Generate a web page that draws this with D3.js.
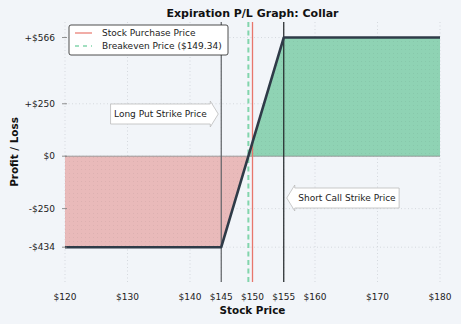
<!DOCTYPE html>
<html>
<head>
<meta charset="utf-8">
<script src="https://cdn.jsdelivr.net/npm/d3@7/dist/d3.min.js"></script>
<style>
  html, body { margin: 0; padding: 0; background: #f2f5f9; }
  svg { display: block; font-family: "DejaVu Sans", sans-serif; }
</style>
</head>
<body>
<svg id="chart" width="461" height="324"></svg>
<script>
// Collar payoff at expiration (long stock + long put + short call)
const prices = [120, 145, 149.34, 155, 180];
const pnl = [-434, -434, 0, 566, 566];
const stockPrice = 150;
const breakeven = 149.34;
const putStrike = 145;
const callStrike = 155;
const xTicks = [120, 130, 140, 145, 150, 155, 160, 170, 180];
const yTicks = [-434, -250, 0, 250, 566];
const yTickLabels = ["-$434", "-$250", "$0", "+$250", "+$566"];

const svg = d3.select("#chart");
const W = 461, H = 324;
const m = { left: 65, right: 21, top: 22, bottom: 42 };
const fs = 9;

const x = d3.scaleLinear().domain([120, 180]).range([m.left, W - m.right]);
const y = d3.scaleLinear().domain([-600, 640]).range([H - m.bottom, m.top]);

svg.append("rect").attr("width", W).attr("height", H).attr("fill", "#f2f5f9");

// faint dot texture used by the fills
const defs = svg.append("defs");
function dotPattern(id, fill) {
  const p = defs.append("pattern").attr("id", id).attr("patternUnits", "userSpaceOnUse")
    .attr("width", 4).attr("height", 4);
  p.append("rect").attr("width", 4).attr("height", 4).attr("fill", fill);
  p.append("rect").attr("x", 1).attr("y", 1).attr("width", 1).attr("height", 1)
    .attr("fill", "#000").attr("opacity", 0.05);
}
dotPattern("lossFill", "#e9baba");
dotPattern("gainFill", "#8fd3b4");

// grid
const grid = svg.append("g");
grid.selectAll(".gx").data(xTicks).join("line")
  .attr("x1", d => x(d)).attr("x2", d => x(d))
  .attr("y1", m.top).attr("y2", H - m.bottom)
  .attr("stroke", "#c9cdd2").attr("stroke-width", 0.7).attr("stroke-dasharray", "1,2.5");
grid.selectAll(".gy").data(yTicks).join("line")
  .attr("x1", m.left).attr("x2", W - m.right)
  .attr("y1", d => y(d)).attr("y2", d => y(d))
  .attr("stroke", "#c9cdd2").attr("stroke-width", 0.7).attr("stroke-dasharray", "1,2.5");

const pts = prices.map((p, i) => ({ p, v: pnl[i] }));

// loss region
svg.append("path")
  .datum(pts.filter(d => d.p <= breakeven))
  .attr("fill", "url(#lossFill)")
  .attr("d", d3.area().x(d => x(d.p)).y0(y(0)).y1(d => y(Math.min(d.v, 0))));
// gain region
svg.append("path")
  .datum(pts.filter(d => d.p >= breakeven))
  .attr("fill", "url(#gainFill)")
  .attr("d", d3.area().x(d => x(d.p)).y0(y(0)).y1(d => y(Math.max(d.v, 0))));

// zero line
svg.append("line").attr("x1", m.left).attr("x2", W - m.right)
  .attr("y1", y(0)).attr("y2", y(0)).attr("stroke", "#8a8a8a").attr("stroke-width", 0.8);

// strike lines
svg.append("line").attr("x1", x(putStrike)).attr("x2", x(putStrike))
  .attr("y1", m.top).attr("y2", H - m.bottom)
  .attr("stroke", "#5f6266").attr("stroke-width", 1.2);
svg.append("line").attr("x1", x(callStrike)).attr("x2", x(callStrike))
  .attr("y1", m.top).attr("y2", H - m.bottom)
  .attr("stroke", "#1f2326").attr("stroke-width", 1.2);

// stock purchase and breakeven lines
svg.append("line").attr("x1", x(stockPrice)).attr("x2", x(stockPrice))
  .attr("y1", m.top).attr("y2", H - m.bottom)
  .attr("stroke", "#e8766c").attr("stroke-width", 1.3);
svg.append("line").attr("x1", x(breakeven)).attr("x2", x(breakeven))
  .attr("y1", m.top).attr("y2", H - m.bottom)
  .attr("stroke", "#82d5ac").attr("stroke-width", 2).attr("stroke-dasharray", "5,3.5");

// payoff line
svg.append("path").datum(pts)
  .attr("fill", "none").attr("stroke", "#2f3b48").attr("stroke-width", 2.6)
  .attr("stroke-linejoin", "round")
  .attr("d", d3.line().x(d => x(d.p)).y(d => y(d.v)));

// y axis ticks and labels
const yAx = svg.append("g");
yAx.selectAll("line").data(yTicks).join("line")
  .attr("x1", m.left - 3).attr("x2", m.left + 2)
  .attr("y1", d => y(d)).attr("y2", d => y(d))
  .attr("stroke", "#777").attr("stroke-width", 0.8);
yAx.selectAll("text").data(yTicks).join("text")
  .attr("x", m.left - 10).attr("y", d => y(d)).attr("dy", "0.35em")
  .attr("text-anchor", "end").attr("font-size", fs).attr("fill", "#222")
  .text((d, i) => yTickLabels[i]);

// x axis labels
svg.append("g").selectAll("text").data(xTicks).join("text")
  .attr("x", d => x(d)).attr("y", H - m.bottom + 15).attr("dy", "0.35em")
  .attr("text-anchor", "middle").attr("font-size", fs).attr("fill", "#222")
  .text(d => "$" + d);

// titles
svg.append("text").attr("x", (m.left + W - m.right) / 2).attr("y", 16.5)
  .attr("text-anchor", "middle").attr("font-size", 11).attr("font-weight", "bold")
  .attr("fill", "#111").text("Expiration P/L Graph: Collar");
svg.append("text").attr("x", (m.left + W - m.right) / 2).attr("y", 314)
  .attr("text-anchor", "middle").attr("font-size", 10.4).attr("font-weight", "bold")
  .attr("fill", "#111").text("Stock Price");
svg.append("text").attr("transform", `translate(17.5,${(m.top + H - m.bottom) / 2}) rotate(-90)`)
  .attr("text-anchor", "middle").attr("font-size", 10.4).attr("font-weight", "bold")
  .attr("fill", "#111").text("Profit / Loss");

// arrow-shaped annotation boxes
function arrowLabel(text, tipX, cy, dir) {
  const g = svg.append("g");
  const t = g.append("text").attr("font-size", fs).attr("fill", "#222")
    .attr("dy", "0.35em").attr("y", cy).text(text);
  const w = t.node().getComputedTextLength();
  const padX = 3.5, h = 20, head = 8, ext = 3;
  let pathD, tx;
  if (dir === "right") {
    const xr = tipX - head, xl = xr - w - 2 * padX;
    tx = xl + padX;
    pathD = `M${xl},${cy - h / 2} L${xr},${cy - h / 2} L${xr},${cy - h / 2 - ext} L${tipX},${cy} L${xr},${cy + h / 2 + ext} L${xr},${cy + h / 2} L${xl},${cy + h / 2} Z`;
  } else {
    const xl = tipX + head, xr = xl + w + 2 * padX;
    tx = xl + padX;
    pathD = `M${xr},${cy - h / 2} L${xl},${cy - h / 2} L${xl},${cy - h / 2 - ext} L${tipX},${cy} L${xl},${cy + h / 2 + ext} L${xl},${cy + h / 2} L${xr},${cy + h / 2} Z`;
  }
  g.insert("path", "text").attr("d", pathD).attr("fill", "#fff")
    .attr("stroke", "#bbb").attr("stroke-width", 0.8);
  t.attr("x", tx);
}
arrowLabel("Long Put Strike Price", x(putStrike) - 3, 114, "right");
arrowLabel("Short Call Strike Price", x(callStrike) + 3, 198, "left");

// legend
const lg = svg.append("g").attr("transform", "translate(69,25)");
lg.append("rect").attr("width", 159).attr("height", 30).attr("rx", 2)
  .attr("fill", "#fff").attr("stroke", "#222").attr("stroke-width", 0.8);
lg.append("line").attr("x1", 6).attr("x2", 23).attr("y1", 8).attr("y2", 8)
  .attr("stroke", "#e8766c").attr("stroke-width", 1.2);
lg.append("text").attr("x", 33).attr("y", 8).attr("dy", "0.35em")
  .attr("font-size", fs).attr("fill", "#222").text("Stock Purchase Price");
lg.append("line").attr("x1", 6).attr("x2", 23).attr("y1", 21).attr("y2", 21)
  .attr("stroke", "#82d5ac").attr("stroke-width", 1.6).attr("stroke-dasharray", "4,4");
lg.append("text").attr("x", 33).attr("y", 21).attr("dy", "0.35em")
  .attr("font-size", fs).attr("fill", "#222").text(`Breakeven Price ($${breakeven})`);
</script>
</body>
</html>
